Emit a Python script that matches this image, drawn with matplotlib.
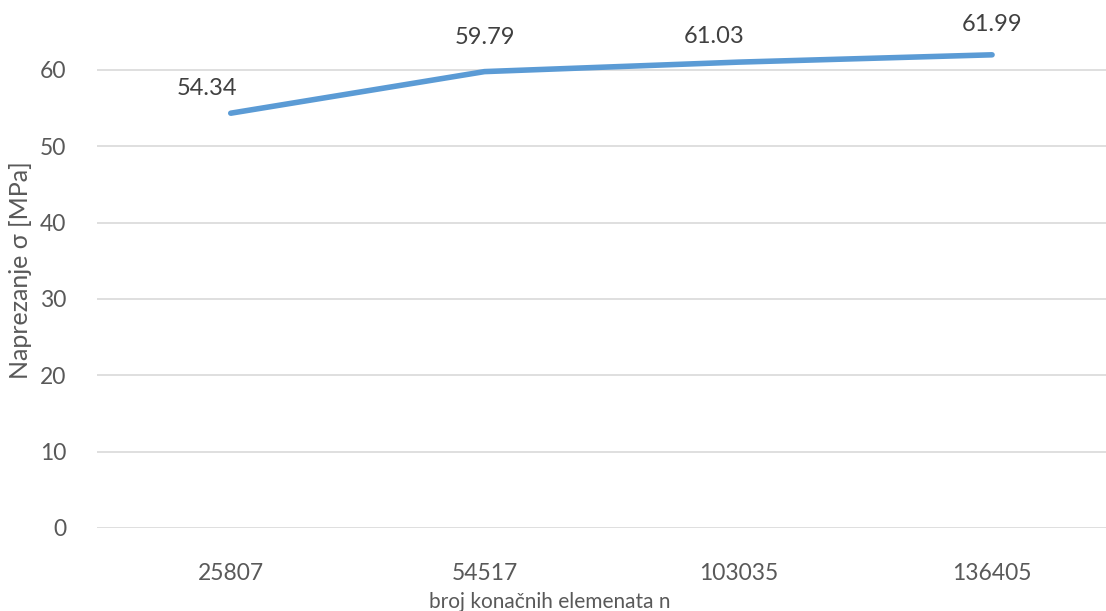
import numpy as np
import matplotlib
matplotlib.use("Agg")
import matplotlib.pyplot as plt

plt.rcParams['font.family'] = ['Lato', 'DejaVu Sans']

# podaci
categories = ["25807", "54517", "103035", "136405"]
stress = [54.34, 59.79, 61.03, 61.99]
y_ticks = [0, 10, 20, 30, 40, 50, 60]

# pomaci oznaka vrijednosti (px)
label_dx = [-24, 0, -24, 0]
label_dy = [25, 34, 26, 30]

txt = "#595959"
W, H = 1106, 611
fig = plt.figure(figsize=(W / 100, H / 100), dpi=100)
# plot area: left edge 97px, zero line at 528px, top cropped at 0
ax = fig.add_axes([97 / W, (H - 528) / H, (W - 97) / W, 528 / H])

x = np.arange(len(categories))
ax.plot(x, stress, color="#5B9BD5", lw=4, solid_capstyle="round",
        solid_joinstyle="round", zorder=3)

for xi, v, dx, dy in zip(x, stress, label_dx, label_dy):
    ax.annotate(f"{v:.2f}", (xi, v), xytext=(dx, dy), textcoords="offset pixels",
                ha="center", va="center", fontsize=17, color="#404040")

ax.set_xlim(-0.527, 3.449)
ax.set_ylim(0, 69.17)
ax.set_xticks(x)
ax.set_xticklabels(categories)
ax.set_yticks(y_ticks)
ax.grid(axis="y", color="#D9D9D9", lw=1.2)
ax.set_axisbelow(True)
for s in ax.spines.values():
    s.set_visible(False)
ax.tick_params(length=0, labelsize=16.5, colors=txt)
ax.tick_params(axis="x", pad=25)
ax.tick_params(axis="y", pad=22)

fig.text(550 / W, 1 - 602 / H, "broj konačnih elemenata n", ha="center", va="center",
         fontsize=15, color=txt)
fig.text(21 / W, 1 - 270 / H, "Naprezanje σ [MPa]", ha="center", va="center",
         rotation=90, fontsize=18, color=txt)

fig.savefig("out.png", dpi=100)
